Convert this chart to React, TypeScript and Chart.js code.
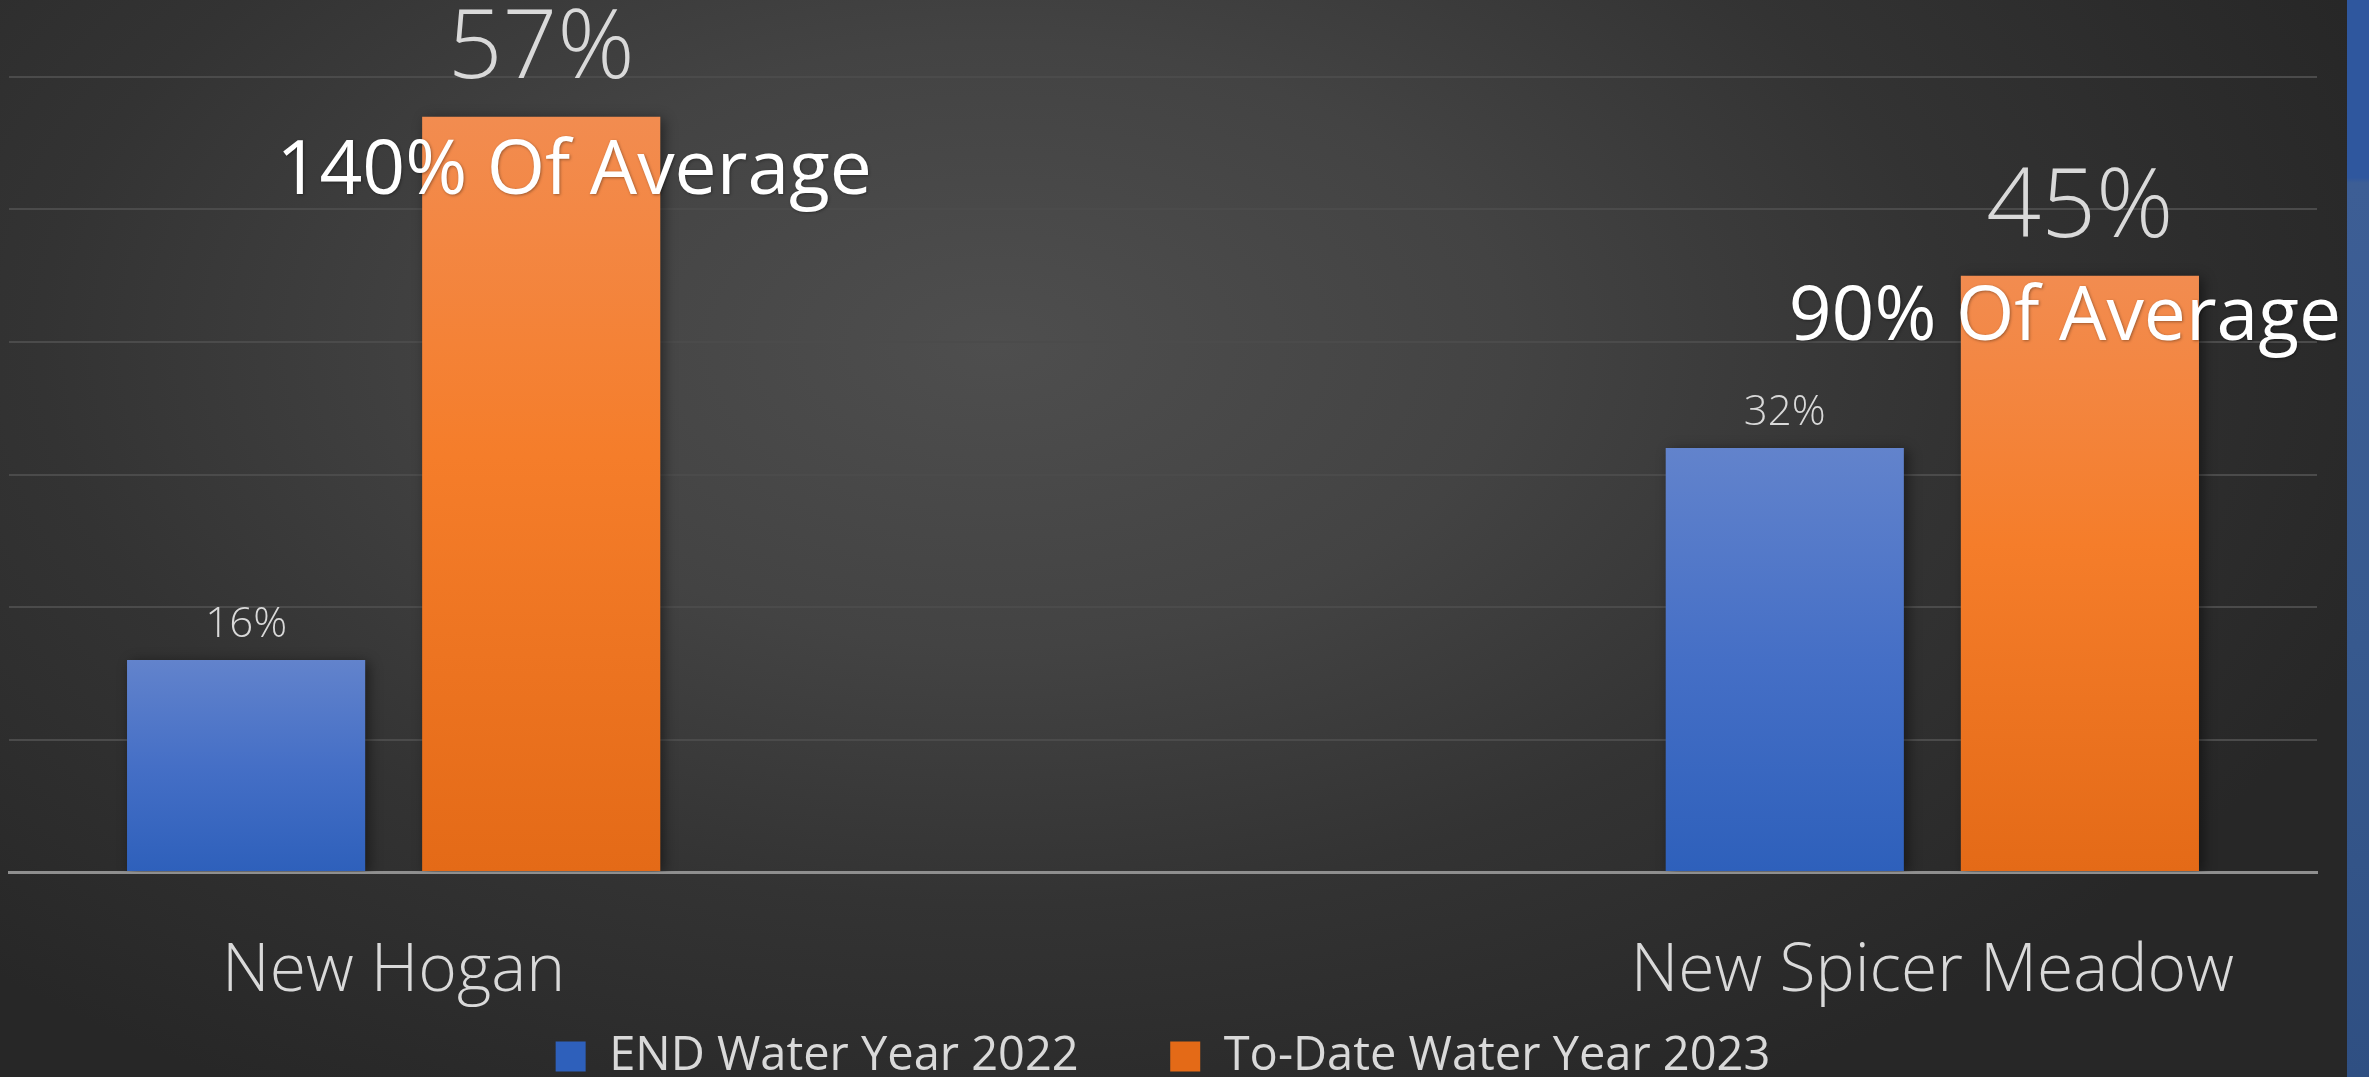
import React, { useEffect, useRef } from 'react';
import { Chart, registerables } from 'chart.js';

Chart.register(...registerables);

const categories = ['New Hogan', 'New Spicer Meadow'];
const seriesNames = ['END Water Year 2022', 'To-Date Water Year 2023'];
const endWaterYear2022 = [16, 32];
const toDateWaterYear2023 = [57, 45];
const averageNotes = ['140% Of Average', '90% Of Average'];
const yTicks = [0, 10, 20, 30, 40, 50, 60];

const FONT = "'Open Sans', 'Noto Sans', sans-serif";

const blueStops: [number, string][] = [
  [0, '#6283cc'],
  [0.5, '#456fc6'],
  [1, '#2e60bb'],
];
const orangeStops: [number, string][] = [
  [0, '#f28c50'],
  [0.45, '#f57d2a'],
  [1, '#e46a17'],
];

function barGradient(stops: [number, string][], legendColor: string) {
  return (c: any) => {
    const chart = c.chart;
    const y = chart.scales && chart.scales.y;
    if (c.type !== 'data' || !y || !chart.chartArea || !c.parsed) return legendColor;
    const top = y.getPixelForValue(c.parsed.y);
    const bottom = y.getPixelForValue(0);
    if (!isFinite(top) || !isFinite(bottom) || top === bottom) return legendColor;
    const g = chart.ctx.createLinearGradient(0, top, 0, bottom);
    stops.forEach(([o, col]) => g.addColorStop(o, col));
    return g;
  };
}

const labelPlugin = {
  id: 'labelPlugin',
  beforeDatasetsDraw(chart: any) {
    const ctx = chart.ctx;
    ctx.save();
    ctx.shadowColor = 'rgba(0,0,0,0.45)';
    ctx.shadowBlur = 12;
    ctx.shadowOffsetX = 4;
    ctx.shadowOffsetY = 2;
  },
  afterDatasetsDraw(chart: any) {
    const ctx = chart.ctx;
    ctx.restore();
    ctx.save();
    ctx.textAlign = 'center';
    ctx.textBaseline = 'alphabetic';
    chart.data.datasets.forEach((ds: any, di: number) => {
      const meta = chart.getDatasetMeta(di);
      meta.data.forEach((bar: any, i: number) => {
        const v = ds.data[i].y;
        const big = di === 1;
        ctx.font = big ? `300 96px ${FONT}` : `300 42px ${FONT}`;
        ctx.fillStyle = '#d9d9d9';
        ctx.fillText(`${v}%`, bar.x, bar.y - (big ? 39 : 23));
      });
    });
    const noteOffsets = [
      [33, 77],
      [-15, 64],
    ];
    const meta = chart.getDatasetMeta(1);
    ctx.font = `400 75px ${FONT}`;
    ctx.fillStyle = '#ffffff';
    ctx.shadowColor = 'rgba(0,0,0,0.35)';
    ctx.shadowBlur = 3;
    ctx.shadowOffsetX = 1;
    ctx.shadowOffsetY = 1;
    meta.data.forEach((bar: any, i: number) => {
      const [dx, dy] = noteOffsets[i];
      ctx.fillText(averageNotes[i], bar.x + dx, bar.y + dy);
    });
    ctx.restore();
  },
};

export default function App() {
  const canvasRef = useRef<HTMLCanvasElement | null>(null);

  useEffect(() => {
    if (!canvasRef.current) return;
    const chart = new Chart(canvasRef.current, {
      type: 'bar',
      data: {
        datasets: [
          {
            label: seriesNames[0],
            data: endWaterYear2022.map((v, i) => ({ x: i, y: v })),
            backgroundColor: barGradient(blueStops, '#4a72c6'),
            borderWidth: 0,
            categoryPercentage: 0.3836,
            barPercentage: 0.807,
          },
          {
            label: seriesNames[1],
            data: toDateWaterYear2023.map((v, i) => ({ x: i, y: v })),
            backgroundColor: barGradient(orangeStops, '#f07a28'),
            borderWidth: 0,
            categoryPercentage: 0.3836,
            barPercentage: 0.807,
          },
        ],
      },
      options: {
        animation: false,
        responsive: true,
        maintainAspectRatio: false,
        layout: { padding: { left: 9, right: 52, top: 77, bottom: 0 } },
        scales: {
          x: {
            type: 'linear',
            min: -0.25,
            max: 1.25,
            offset: false,
            grid: { display: false, drawTicks: false },
            border: { display: true, color: '#8f8f8f', width: 3 },
            afterBuildTicks: (axis: any) => {
              axis.ticks = categories.map((_, i) => ({ value: i }));
            },
            afterFit: (axis: any) => {
              axis.height = 140;
            },
            ticks: {
              autoSkip: false,
              maxRotation: 0,
              padding: 61,
              color: '#d9d9d9',
              font: { family: FONT, size: 66, weight: '300' },
              callback: (v: any) => categories[v] ?? '',
            },
          },
          y: {
            min: yTicks[0],
            max: yTicks[yTicks.length - 1],
            afterBuildTicks: (axis: any) => {
              axis.ticks = yTicks.map((v) => ({ value: v }));
            },
            ticks: { display: false },
            grid: {
              drawTicks: false,
              color: (c: any) => (c.tick && c.tick.value === 0 ? 'rgba(0,0,0,0)' : '#4b4b4b'),
              lineWidth: 2,
            },
            border: { display: false },
          },
        },
        plugins: {
          legend: {
            position: 'bottom',
            maxHeight: 65,
            labels: {
              color: '#d9d9d9',
              font: { family: FONT, size: 47 },
              boxWidth: 30,
              boxHeight: 30,
              padding: 21,
              generateLabels: (chart: any) => {
                const items = (Chart.defaults as any).plugins.legend.labels.generateLabels(chart);
                items.forEach((it: any, i: number) => {
                  if (i < items.length - 1) it.text = it.text + '\u2002\u2002\u2002';
                  it.lineWidth = 0;
                });
                return items;
              },
            },
          },
          tooltip: { enabled: false },
          title: { display: false },
        },
      },
      plugins: [labelPlugin],
    } as any);
    return () => chart.destroy();
  }, []);

  return (
    <div
      style={{
        position: 'fixed',
        left: 0,
        top: 0,
        width: '100vw',
        height: '100vh',
        overflow: 'hidden',
        background:
          'radial-gradient(ellipse 62% 80% at 42% 32%, #4e4e4e 0%, #434343 35%, #333333 65%, #272727 100%)',
      }}
    >
      <div
        style={{
          position: 'absolute',
          top: 0,
          bottom: 0,
          left: 2347,
          right: 0,
          background: 'linear-gradient(180deg, #2f579e 0%, #2f579e 16.5%, #3d5e95 17%, #37598e 60%, #2f4f82 100%)',
        }}
      />
      <div style={{ position: 'absolute', left: 0, top: 0, width: '100%', height: '100%' }}>
        <canvas ref={canvasRef} />
      </div>
    </div>
  );
}
